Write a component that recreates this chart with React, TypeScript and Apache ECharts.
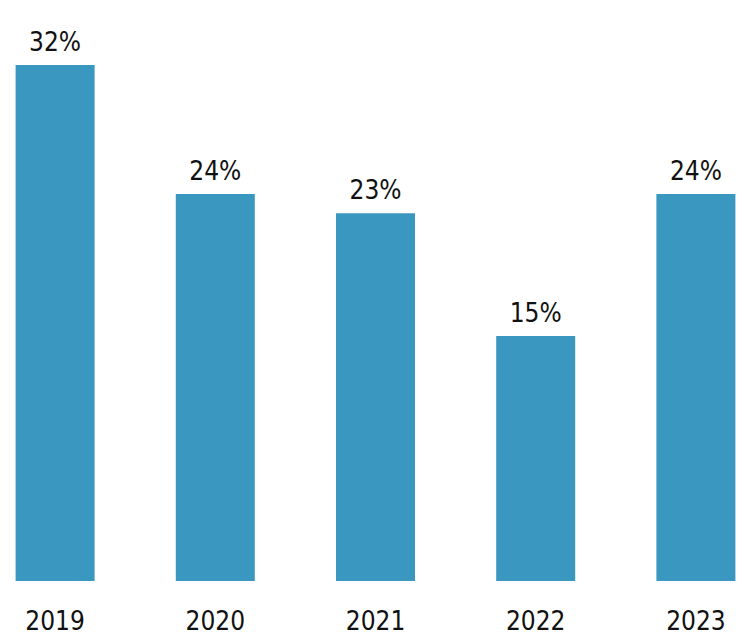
import React, { useEffect, useRef } from "react";
import * as echarts from "echarts";

const years = ["2019", "2020", "2021", "2022", "2023"];
const shares = [32, 24, 22.8, 15.2, 24];
const shareLabels = ["32%", "24%", "23%", "15%", "24%"];

const FONT = "'DejaVu Sans Condensed', 'Liberation Sans Narrow', sans-serif";

export default function App() {
  const ref = useRef<HTMLDivElement>(null);
  useEffect(() => {
    if (!ref.current) return;
    const chart = echarts.init(ref.current, undefined, { renderer: "svg" });
    chart.setOption({
      animation: false,
      grid: { left: 0, right: 0, top: 65, bottom: 61, containLabel: false },
      xAxis: {
        type: "category",
        data: years,
        axisLine: { show: false },
        axisTick: { show: false },
        axisLabel: { color: "#111", fontSize: 26, fontFamily: FONT, margin: 27 },
      },
      yAxis: { type: "value", min: 0, max: 32, show: false, splitLine: { show: false } },
      series: [
        {
          type: "bar",
          data: shares,
          barWidth: 79,
          itemStyle: { color: "#3a97c0" },
          label: {
            show: true,
            position: "top",
            distance: 10,
            color: "#111",
            fontSize: 26,
            fontFamily: FONT,
            formatter: (p: any) => shareLabels[p.dataIndex],
          },
        },
      ],
    });
    return () => chart.dispose();
  }, []);
  return (
    <div style={{ position: "absolute", left: 0, top: 0, width: 751, height: 642, overflow: "hidden", background: "#fff" }}>
      <div ref={ref} style={{ position: "absolute", left: -25, top: 0, width: 801, height: 642 }} />
    </div>
  );
}
